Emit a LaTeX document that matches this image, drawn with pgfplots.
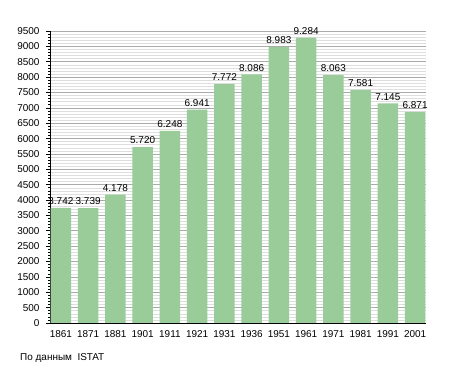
\documentclass[border=0pt]{standalone}
\usepackage{pgfplots}
\pgfplotsset{compat=1.18}
\usepackage{fontspec}
\setmainfont{Liberation Sans}
\definecolor{barc}{RGB}{153,204,153}
\definecolor{majgrid}{RGB}{170,170,170}
\definecolor{mingrid}{RGB}{222,222,222}
\begin{document}
\begin{tikzpicture}
\path[use as bounding box] (0,0) rectangle (455bp,373bp);
\begin{axis}[
  at={(50bp,50bp)}, anchor=south west,
  scale only axis, width=376bp, height=292bp,
  xmin=-0.4, xmax=13.4, ymin=0, ymax=9500,
  axis lines*=left,
  axis line style={black, line width=0.9bp},
  ytick={0,500,...,9500}, minor y tick num=4,
  ymajorgrids, yminorgrids,
  major grid style={majgrid, line width=0.6bp},
  minor grid style={mingrid, line width=0.5bp},
  xtick=data,
  xticklabels={1861,1871,1881,1901,1911,1921,1931,1936,1951,1961,1971,1981,1991,2001},
  major x tick style={draw=none},
  tick align=outside, major tick length=4bp, minor tick length=2bp,
  tick style={black, line width=0.6bp},
  ticklabel style={font=\fontsize{10}{12}\selectfont},
  /pgf/number format/assume math mode=true,
  scaled y ticks=false,
  yticklabel style={/pgf/number format/1000 sep={}, xshift=-3bp},
  ybar, bar width=20.5bp, bar shift=0pt,
  nodes near coords,
  nodes near coords style={font=\fontsize{10}{12}\selectfont, /pgf/number format/1000 sep={.}, /pgf/number format/assume math mode=true, inner sep=1.5bp, yshift=1.5bp, black},
]
\addplot[fill=barc, draw=none] coordinates {
(0,3742) (1,3739) (2,4178) (3,5720) (4,6248) (5,6941) (6,7772)
(7,8086) (8,8983) (9,9284) (10,8063) (11,7581) (12,7145) (13,6871)};
\end{axis}
\node[anchor=west, font=\fontsize{10}{12}\selectfont, inner sep=0pt] at (20bp,15bp) {По данным\ \ ISTAT};
\end{tikzpicture}
\end{document}
